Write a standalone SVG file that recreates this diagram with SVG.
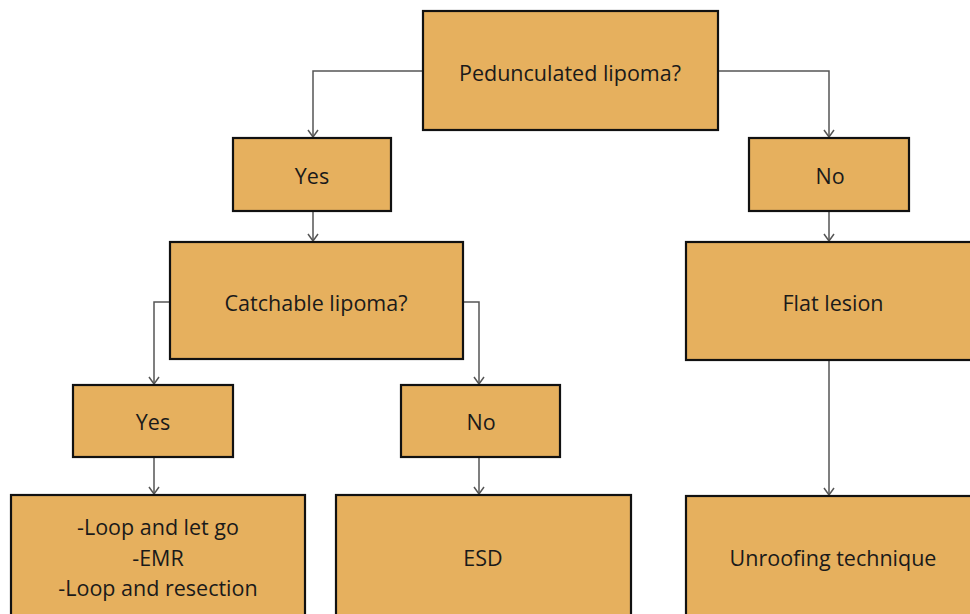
<svg xmlns="http://www.w3.org/2000/svg" width="970" height="614" viewBox="0 0 970 614">
<defs>
<style>
.box{fill:#E6B05E;stroke:#111;stroke-width:2.2}
.t{font-family:"Open Sans","Liberation Sans",sans-serif;font-size:21.5px;fill:#1a1a1a;text-anchor:middle;dominant-baseline:central}
.c{fill:none;stroke:#555;stroke-width:1.5}
</style>
<marker id="a" markerWidth="12" markerHeight="12" refX="10" refY="6" orient="auto" markerUnits="userSpaceOnUse" viewBox="0 0 12 12">
<path d="M3,1 L10,6 L3,11" fill="none" stroke="#555" stroke-width="1.5"/>
</marker>
</defs>
<rect width="970" height="614" fill="#fff"/>
<g id="connectors">
<polyline class="c" points="423,71 313,71 313,137" marker-end="url(#a)"/>
<polyline class="c" points="718,71 829,71 829,137" marker-end="url(#a)"/>
<line class="c" x1="313" y1="211" x2="313" y2="241" marker-end="url(#a)"/>
<line class="c" x1="829" y1="211" x2="829" y2="241" marker-end="url(#a)"/>
<polyline class="c" points="170,302 154,302 154,384" marker-end="url(#a)"/>
<polyline class="c" points="463,302 479,302 479,384" marker-end="url(#a)"/>
<line class="c" x1="154" y1="457" x2="154" y2="494" marker-end="url(#a)"/>
<line class="c" x1="479" y1="457" x2="479" y2="494" marker-end="url(#a)"/>
<line class="c" x1="829" y1="360" x2="829" y2="495" marker-end="url(#a)"/>
</g>
<g id="n1"><rect class="box" x="423" y="11" width="295" height="119"/><text class="t" x="570" y="72">Pedunculated lipoma?</text></g>
<g id="n2"><rect class="box" x="233" y="138" width="158" height="73"/><text class="t" x="312" y="175">Yes</text></g>
<g id="n3"><rect class="box" x="749" y="138" width="160" height="73"/><text class="t" x="830" y="175">No</text></g>
<g id="n4"><rect class="box" x="170" y="242" width="293" height="117"/><text class="t" x="316" y="302">Catchable lipoma?</text></g>
<g id="n5"><rect class="box" x="686" y="242" width="290" height="118"/><text class="t" x="833" y="302">Flat lesion</text></g>
<g id="n6"><rect class="box" x="73" y="385" width="160" height="72"/><text class="t" x="153" y="421">Yes</text></g>
<g id="n7"><rect class="box" x="401" y="385" width="159" height="72"/><text class="t" x="481" y="421">No</text></g>
<g id="n8"><rect class="box" x="11" y="495" width="294" height="125"/><text class="t" x="158" y="526">-Loop and let go</text><text class="t" x="158" y="557">-EMR</text><text class="t" x="158" y="587">-Loop and resection</text></g>
<g id="n9"><rect class="box" x="336" y="495" width="295" height="125"/><text class="t" x="483" y="557">ESD</text></g>
<g id="n10"><rect class="box" x="686" y="496" width="290" height="125"/><text class="t" x="833" y="557">Unroofing technique</text></g>
</svg>
